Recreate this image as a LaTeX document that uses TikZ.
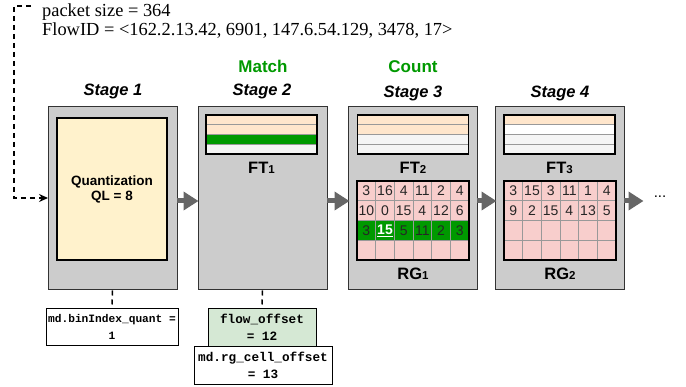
\documentclass[tikz,border=0pt]{standalone}
\usepackage{fontspec}
\setmainfont{Liberation Serif}
\setsansfont{Liberation Sans}
\setmonofont{Liberation Mono}
\usetikzlibrary{arrows.meta}
\definecolor{stagegray}{HTML}{CCCCCC}
\definecolor{quantfill}{HTML}{FFF2CC}
\definecolor{peach}{HTML}{FFE6CC}
\definecolor{lgray}{HTML}{F5F5F5}
\definecolor{mgreen}{HTML}{009900}
\definecolor{pinkc}{HTML}{F8CECC}
\definecolor{lgreen}{HTML}{D5E8D4}
\definecolor{arrowgray}{HTML}{666666}
\definecolor{linegray}{HTML}{999999}
\begin{document}
\begin{tikzpicture}[x=1pt,y=-1pt,
  stagebox/.style={draw=black!80,line width=1pt,fill=stagegray,minimum width=129pt,minimum height=183pt,inner sep=0pt},
  quantbox/.style={draw=black,line width=1.5pt,fill=quantfill,minimum width=110pt,minimum height=142pt,inner sep=0pt,align=center,font=\sffamily\bfseries\fontsize{13.5}{15}\selectfont},
  ftbox/.style={draw=black,line width=1.6pt,minimum width=111pt,minimum height=39pt,inner sep=0pt},
  rgbox/.style={draw=black,line width=1.6pt,minimum width=112pt,minimum height=79pt,inner sep=0pt},
  gridline/.style={draw=linegray,line width=0.8pt},
  cell/.style={font=\sffamily\fontsize{14}{15}\selectfont,text=black!85,inner sep=0pt},
  lbl/.style={font=\sffamily\bfseries\fontsize{16.5}{18}\selectfont,inner sep=0pt},
  stagelbl/.style={font=\sffamily\bfseries\itshape\fontsize{16.5}{18}\selectfont,inner sep=0pt,anchor=base},
  greenlbl/.style={font=\sffamily\bfseries\fontsize{17}{18}\selectfont,text=mgreen,inner sep=0pt,anchor=base},
  serif/.style={font=\fontsize{18.4}{20}\selectfont,inner sep=0pt,anchor=base west},
  mdbox/.style={draw=black,line width=0.8pt,fill=white,inner sep=0pt,align=center,font=\ttfamily\bfseries\fontsize{12.7}{17}\selectfont},
  grayarrow/.style={draw=arrowgray,line width=5pt,-{Triangle[length=15pt,width=18pt]},shorten >=-0.5pt},
  dashline/.style={draw=black,line width=1.5pt,dash pattern=on 5pt off 4pt}
]
\useasboundingbox (0,0) rectangle (686,387);

% header texts
\node[serif] (pkt) at (42,17) {packet size = 364};
\node[serif] (fid) at (42,36) {FlowID = <162.2.13.42, 6901, 147.6.54.129, 3478, 17>};
\node[greenlbl] (match) at (263,73) {Match};
\node[greenlbl] (count) at (413,73) {Count};
\node[stagelbl] (l1) at (113,96) {Stage 1};
\node[stagelbl] (l2) at (262,96) {Stage 2};
\node[stagelbl] (l3) at (413,98) {Stage 3};
\node[stagelbl] (l4) at (560,98) {Stage 4};

% stages
\node[stagebox] (s1) at (112.5,198.5) {};
\node[stagebox] (s2) at (262.5,198.5) {};
\node[stagebox] (s3) at (413,198.5) {};
\node[stagebox] (s4) at (560,198.5) {};

% stage 1
\node[quantbox] (q) at (112,189) {Quantization\\QL = 8};

% FT tables
\foreach \nm/\cx/\ca/\cb/\cc/\cd in {ft1/261.5/peach/peach/mgreen/lgray, ft2/413/peach/peach/lgray/lgray, ft3/559.5/peach/white/lgray/lgray}{
  \fill[\ca] ({\cx-55.5},115) rectangle ({\cx+55.5},124.75);
  \fill[\cb] ({\cx-55.5},124.75) rectangle ({\cx+55.5},134.5);
  \fill[\cc] ({\cx-55.5},134.5) rectangle ({\cx+55.5},144.25);
  \fill[\cd] ({\cx-55.5},144.25) rectangle ({\cx+55.5},154);
  \foreach \yy in {124.75,134.5,144.25} \draw[gridline] ({\cx-55.5},\yy) -- ({\cx+55.5},\yy);
  \node[ftbox] (\nm) at (\cx,134.5) {};
}
\node[lbl] (ft1l) at (261.5,168) {FT{\fontsize{11.5}{12}\selectfont 1}};
\node[lbl] (ft2l) at (413,168) {FT{\fontsize{11.5}{12}\selectfont 2}};
\node[lbl] (ft3l) at (559.5,168) {FT{\fontsize{11.5}{12}\selectfont 3}};

% RG1
\fill[pinkc] (357,181) rectangle (469,260);
\fill[mgreen] (357,220.5) rectangle (469,240.25);
\foreach \i in {1,...,5} \draw[gridline] ({357+\i*112/6},181) -- ({357+\i*112/6},260);
\foreach \j in {1,2,3} \draw[gridline] (357,{181+\j*19.75}) -- (469,{181+\j*19.75});
\node[rgbox] (rg1) at (413,220.5) {};
\foreach \v [count=\c] in {3,16,4,11,2,4} \node[cell] (ra\c) at ({357+(\c-0.5)*112/6},191) {\v};
\foreach \v [count=\c] in {10,0,15,4,12,6} \node[cell] (rb\c) at ({357+(\c-0.5)*112/6},210.5) {\v};
\foreach \v [count=\c] in {3,,5,11,2,3} \node[cell] (rc\c) at ({357+(\c-0.5)*112/6},230.5) {\v};
\node[cell,text=white,font=\sffamily\bfseries\fontsize{14}{15}\selectfont] (hit) at ({357+1.5*112/6},230.5) {\underline{15}};
\node[lbl] (rg1l) at (413,274) {RG{\fontsize{11.5}{12}\selectfont 1}};

% RG2
\fill[pinkc] (504,181) rectangle (616,260);
\foreach \i in {1,...,5} \draw[gridline] ({504+\i*112/6},181) -- ({504+\i*112/6},260);
\foreach \j in {1,2,3} \draw[gridline] (504,{181+\j*19.75}) -- (616,{181+\j*19.75});
\node[rgbox] (rg2) at (560,220.5) {};
\foreach \v [count=\c] in {3,15,3,11,1,4} \node[cell] (sa\c) at ({504+(\c-0.5)*112/6},191) {\v};
\foreach \v [count=\c] in {9,2,15,4,13,5} \node[cell] (sb\c) at ({504+(\c-0.5)*112/6},210.5) {\v};
\node[lbl] (rg2l) at (560,274) {RG{\fontsize{11.5}{12}\selectfont 2}};

% gray arrows
\coordinate (a1) at (177,201);
\coordinate (a2) at (198,201);
\coordinate (a3) at (327,201);
\coordinate (a4) at (349,201);
\coordinate (a5) at (477,201);
\coordinate (a6) at (496,201);
\coordinate (a7) at (624,201);
\coordinate (a8) at (643,201);
\draw[grayarrow] (a1) -- (a2);
\draw[grayarrow] (a3) -- (a4);
\draw[grayarrow] (a5) -- (a6);
\draw[grayarrow] (a7) -- (a8);
\node[font=\sffamily\fontsize{15}{16}\selectfont,inner sep=0pt] (dots) at (660,197) {...};

% dashed input
\coordinate (d0) at (31,6);
\coordinate (d1) at (14,6);
\coordinate (d2) at (14,198);
\coordinate (d3) at (48,198);
\draw[dashline,-{Stealth[length=9pt,width=8pt,inset=3pt]}] (d0) -- (d1) -- (d2) -- (d3);

% bottom boxes
\node[mdbox,font=\ttfamily\bfseries\fontsize{11.2}{17}\selectfont,minimum width=132pt,minimum height=37pt] (b1) at (112,326.5) {md.binIndex\_quant =\\1};
\node[mdbox,fill=lgreen,minimum width=108pt,minimum height=39pt] (b2) at (262,327.5) {flow\_offset\\= 12};
\node[mdbox,minimum width=138pt,minimum height=38pt] (b3) at (263,365) {md.rg\_cell\_offset\\= 13};
\draw[dashline] (s1.south) -- (b1.north);
\draw[dashline] (s2.south) -- (b2.north);
\end{tikzpicture}
\end{document}
